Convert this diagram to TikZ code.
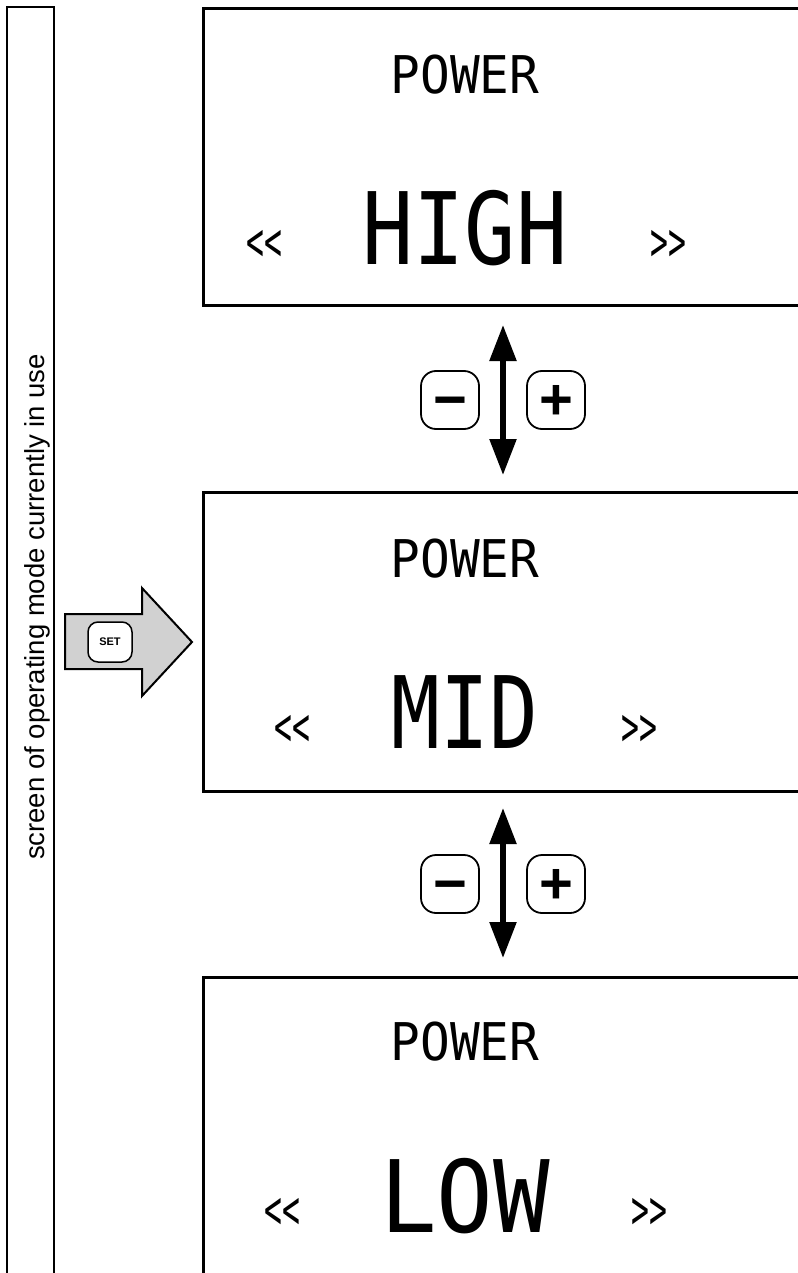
\documentclass[tikz,border=0pt]{standalone}
\usepackage{fontspec}
\setmainfont{Liberation Sans}
\newfontfamily\lcd{DejaVu Sans Mono}
\usetikzlibrary{arrows.meta}
\tikzset{
  screenbox/.style={line width=3pt, line join=miter},
  sidebox/.style={line width=2pt},
  lcdsmall/.style={inner sep=0pt, font=\lcd\fontsize{52}{52}\selectfont},
  lcdbig/.style={inner sep=0pt, font=\lcd\fontsize{100}{100}\selectfont},
  lcdarrow/.style={inner sep=0pt, font=\lcd\fontsize{54}{54}\selectfont},
  btn/.style={draw, line width=1.8pt, rounded corners=15pt, minimum width=58pt, minimum height=58pt, inner sep=0pt, fill=white},
  sign/.style={inner sep=0pt, anchor=base, yshift=-19pt, font=\bfseries\fontsize{58}{58}\selectfont},
  dblarrow/.style={line width=5.5pt, arrows={Triangle[width=26pt,length=36pt]-Triangle[width=26pt,length=36pt]}},
  setarrow/.style={draw, line width=2pt, fill=black!18, line join=miter},
  setbtn/.style={draw, line width=1.5pt, rounded corners=10pt, minimum width=44pt, minimum height=40pt, inner sep=0pt, fill=white, font=\bfseries\fontsize{11}{11}\selectfont},
}
\begin{document}
\begin{tikzpicture}[x=1pt,y=-1pt]
\useasboundingbox (0,0) rectangle (797,1273);
\fill[white] (0,0) rectangle (797,1273);

% side label box
\draw[sidebox] (7,1285) -- (7,7) -- (54,7) -- (54,1285);
\node[rotate=90, inner sep=0pt, font=\fontsize{27.5}{27.5}\selectfont] (lbl) at (37,607) {screen of operating mode currently in use};

% screen 1
\draw[screenbox] (810,9) -- (203,9) -- (203,305) -- (810,305);
\node[lcdsmall] (p1) at (465,75) {\scalebox{0.95}[1]{POWER}};
\node[lcdbig] (v1) at (465,228) {\scalebox{0.85}[1]{HIGH}};
\node[lcdarrow] (l1) at (264,245) {\scalebox{0.55}[1]{<<}};
\node[lcdarrow] (r1) at (668,245) {\scalebox{0.55}[1]{>>}};

% screen 2
\draw[screenbox] (810,492) -- (203,492) -- (203,791) -- (810,791);
\node[lcdsmall] (p2) at (465,559) {\scalebox{0.95}[1]{POWER}};
\node[lcdbig] (v2) at (465,712) {\scalebox{0.81}[1]{MID}};
\node[lcdarrow] (l2) at (292,730) {\scalebox{0.55}[1]{<<}};
\node[lcdarrow] (r2) at (639,730) {\scalebox{0.55}[1]{>>}};

% screen 3
\draw[screenbox] (810,977) -- (203,977) -- (203,1285);
\node[lcdsmall] (p3) at (465,1042) {\scalebox{0.95}[1]{POWER}};
\node[lcdbig] (v3) at (465,1196) {\scalebox{0.94}[1]{LOW}};
\node[lcdarrow] (l3) at (282,1213) {\scalebox{0.55}[1]{<<}};
\node[lcdarrow] (r3) at (649,1213) {\scalebox{0.55}[1]{>>}};

% transitions 1-2
\coordinate (t1a) at (503,325);
\coordinate (t1b) at (503,475);
\draw[dblarrow] (t1a) -- (t1b);
\node[btn] (m1) at (450,400) {};
\node[sign] at (m1.center) {−};
\node[btn] (pl1) at (556,400) {};
\node[sign] at (pl1.center) {+};

% transitions 2-3
\coordinate (t2a) at (503,808);
\coordinate (t2b) at (503,958);
\draw[dblarrow] (t2a) -- (t2b);
\node[btn] (m2) at (450,884) {};
\node[sign] at (m2.center) {−};
\node[btn] (pl2) at (556,884) {};
\node[sign] at (pl2.center) {+};

% SET arrow
\draw[setarrow] (65,614) -- (142,614) -- (142,588) -- (192,642) -- (142,696) -- (142,669) -- (65,669) -- cycle;
\node[setbtn] (set) at (110,642) {SET};
\end{tikzpicture}
\end{document}
